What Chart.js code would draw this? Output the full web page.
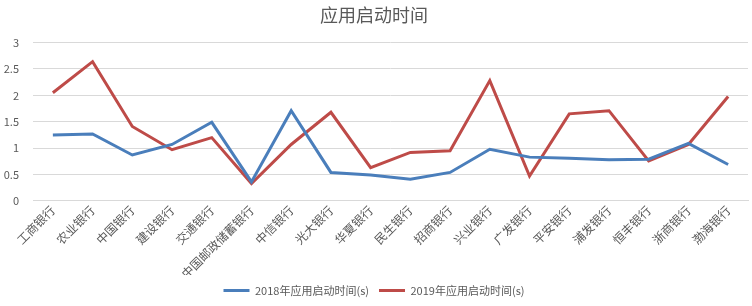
<!DOCTYPE html>
<html>
<head>
<meta charset="utf-8">
<script src="https://cdn.jsdelivr.net/npm/chart.js@4/dist/chart.umd.min.js"></script>
<style>
  body { margin: 0; background: #fff; }
  #wrap { width: 752px; height: 306px; }
</style>
</head>
<body>
<div id="wrap"><canvas id="startChart"></canvas></div>
<script>
// 各银行应用启动时间
const banks = ['工商银行', '农业银行', '中国银行', '建设银行', '交通银行', '中国邮政储蓄银行', '中信银行', '光大银行', '华夏银行',
  '民生银行', '招商银行', '兴业银行', '广发银行', '平安银行', '浦发银行', '恒丰银行', '浙商银行', '渤海银行'];
const time2018 = [1.25, 1.27, 0.87, 1.07, 1.49, 0.36, 1.71, 0.54, 0.49, 0.41, 0.54, 0.98, 0.83, 0.81, 0.78, 0.79, 1.09, 0.69];
const time2019 = [2.05, 2.64, 1.41, 0.97, 1.2, 0.33, 1.07, 1.68, 0.63, 0.92, 0.95, 2.28, 0.47, 1.65, 1.71, 0.76, 1.07, 1.98];
const yTicks = [0, 0.5, 1, 1.5, 2, 2.5, 3];

const font = '"Noto Sans CJK SC", "Noto Sans", sans-serif';
const grey = '#595959';

document.addEventListener('DOMContentLoaded', () => {
  const ctx = document.getElementById('startChart').getContext('2d');
  new Chart(ctx, {
    type: 'line',
    data: {
      labels: banks,
      datasets: [{
        label: '2018年应用启动时间(s)',
        data: time2018,
        borderColor: '#4a7ebb',
        backgroundColor: '#4a7ebb',
        borderWidth: 3,
        pointRadius: 0,
        tension: 0
      }, {
        label: '2019年应用启动时间(s)',
        data: time2019,
        borderColor: '#be4b48',
        backgroundColor: '#be4b48',
        borderWidth: 3,
        pointRadius: 0,
        tension: 0
      }]
    },
    options: {
      responsive: true,
      maintainAspectRatio: false,
      animation: false,
      layout: { padding: { left: 0, right: 4, top: 2, bottom: 0 } },
      plugins: {
        title: {
          display: true,
          text: '应用启动时间',
          color: grey,
          font: { family: font, size: 18, weight: 'normal' },
          padding: { top: 2, bottom: 17 }
        },
        legend: {
          position: 'bottom',
          labels: {
            usePointStyle: true,
            pointStyle: 'line',
            pointStyleWidth: 26,
            color: grey,
            font: { family: font, size: 11 },
            padding: 10
          }
        },
        tooltip: { enabled: false }
      },
      scales: {
        x: {
          offset: true,
          grid: { display: false, drawTicks: false },
          border: { color: '#d9d9d9' },
          ticks: {
            color: grey,
            font: { family: font, size: 12 },
            maxRotation: 45,
            minRotation: 45,
            autoSkip: false,
            padding: 2
          },
          // labels in the reference sit tighter under the axis
          afterFit: (axis) => { axis.height -= 8; axis.paddingLeft = 0; }
        },
        y: {
          min: 0,
          max: 3,
          afterBuildTicks: (axis) => { axis.ticks = yTicks.map(v => ({ value: v })); },
          grid: { color: '#d9d9d9', drawTicks: false },
          border: { display: false },
          ticks: {
            color: grey,
            font: { family: font, size: 11 },
            padding: 14,
            callback: (v) => String(v)
          },
          afterFit: (axis) => { axis.width = 33; }
        }
      }
    }
  });
});
</script>
</body>
</html>
